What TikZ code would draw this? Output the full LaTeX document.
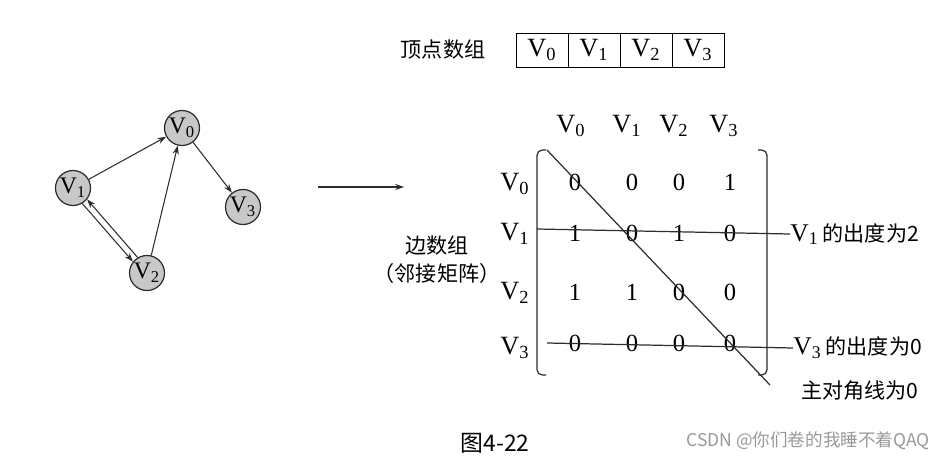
\documentclass[tikz,border=0pt]{standalone}
\usepackage{fontspec}
\setmainfont{Liberation Serif}
\newfontfamily\cjk{Noto Sans CJK SC}
\usetikzlibrary{arrows.meta, positioning}
\definecolor{vexgray}{RGB}{200,200,200}
\definecolor{inkgray}{RGB}{45,45,45}
\newcommand{\vx}[1]{V\textsubscript{#1}}

\begin{document}
\begin{tikzpicture}[
    x=0.02cm, y=-0.02cm,
    vex/.style={circle, draw=inkgray, line width=0.7pt, fill=vexgray, minimum size=0.7cm, inner sep=0pt, font=\fontsize{13.5}{15}\selectfont},
    arr/.style={-{Stealth[length=5pt, width=3.5pt]}, line width=0.6pt, inkgray},
    cell/.style={draw, outer sep=0pt, minimum width=1.04cm, minimum height=0.68cm, inner sep=0pt, font=\fontsize{15}{17}\selectfont},
    lbl/.style={inner sep=0pt, font=\fontsize{15}{17}\selectfont},
    ent/.style={inner sep=0pt, font=\fontsize{14}{16}\selectfont},
    zh/.style={inner sep=0pt, font=\cjk\fontsize{12}{14}\selectfont},
    ln/.style={line width=0.7pt, inkgray}
]
\useasboundingbox (0,0) rectangle (949,460);

% the graph
\node[vex] (v0) at (182,128) {\vx{0}};
\node[vex] (v1) at (73,188) {\vx{1}};
\node[vex] (v2) at (147,273) {\vx{2}};
\node[vex] (v3) at (243,207) {\vx{3}};

\draw[arr] (v1) -- (v0);
\draw[arr] (v2) -- (v0);
\draw[arr] (v0) -- (v3);
\draw[arr] (v1.-59) -- (v2.141);
\draw[arr] (v2.121) -- (v1.-39);

% long arrow
\coordinate (a0) at (318,187);
\coordinate (a1) at (404,187);
\draw[arr] (a0) -- (a1);

% vertex array
\node[zh] (vtitle) at (443,50) {顶点数组};
\node[cell] (c0) at (542,50) {\vx{0}};
\node[cell, right=0pt of c0] (c1) {\vx{1}};
\node[cell, right=0pt of c1] (c2) {\vx{2}};
\node[cell, right=0pt of c2] (c3) {\vx{3}};

% edge array
\node[zh] (etitle) at (437,246) {边数组};
\node[zh] (esub) at (437,273) {（邻接矩阵）};

% headers
\foreach \i/\x in {0/571, 1/627, 2/674, 3/724}
  \node[lbl] (h\i) at (\x,126) {\vx{\i}};
\foreach \i/\y in {0/184, 1/234, 2/293, 3/348}
  \node[lbl] (r\i) at (515,\y) {\vx{\i}};

% entries
\foreach \r/\y/\vals in {0/182/{0,0,0,1}, 1/233/{1,0,1,0}, 2/292/{1,1,0,0}, 3/343/{0,0,0,0}}
  \foreach \v [count=\c from 0] in \vals {
    \pgfmathsetmacro{\xx}{{575,632,679,730}[\c]}
    \node[ent] (m\r\c) at (\xx,\y) {\v};
  }

% brackets
\draw[ln, rounded corners=3pt] (546,150) -- (537,150) -- (537,375) -- (546,375);
\draw[ln, rounded corners=3pt] (758,150) -- (767,150) -- (767,375) -- (758,375);

% notes
\node[anchor=west, inner sep=0pt] (d1) at (790,234) {\fontsize{14.5}{16}\selectfont\vx{1}\,\cjk\fontsize{12}{14}\selectfont 的出度为2};
\node[anchor=west, inner sep=0pt] (d3) at (793,348) {\fontsize{14.5}{16}\selectfont\vx{3}\,\cjk\fontsize{12}{14}\selectfont 的出度为0};
\node[zh] (dg) at (860,391) {主对角线为0};

\coordinate (s1) at (537,229);
\coordinate (s3) at (547,343);
\coordinate (g0) at (547,150);
\coordinate (g1) at (770,385);
\draw[ln] (s1) -- (d1.west);
\draw[ln] (s3) -- (d3.west);
\draw[ln] (g0) -- (g1);

% caption
\node[zh] (cap) at (495,443) {\fontsize{13}{15}\selectfont 图4-22};
\node[zh, text=gray!80] (wm) at (808,441) {\fontsize{10}{12}\selectfont CSDN @你们卷的我睡不着QAQ};
\end{tikzpicture}
\end{document}
